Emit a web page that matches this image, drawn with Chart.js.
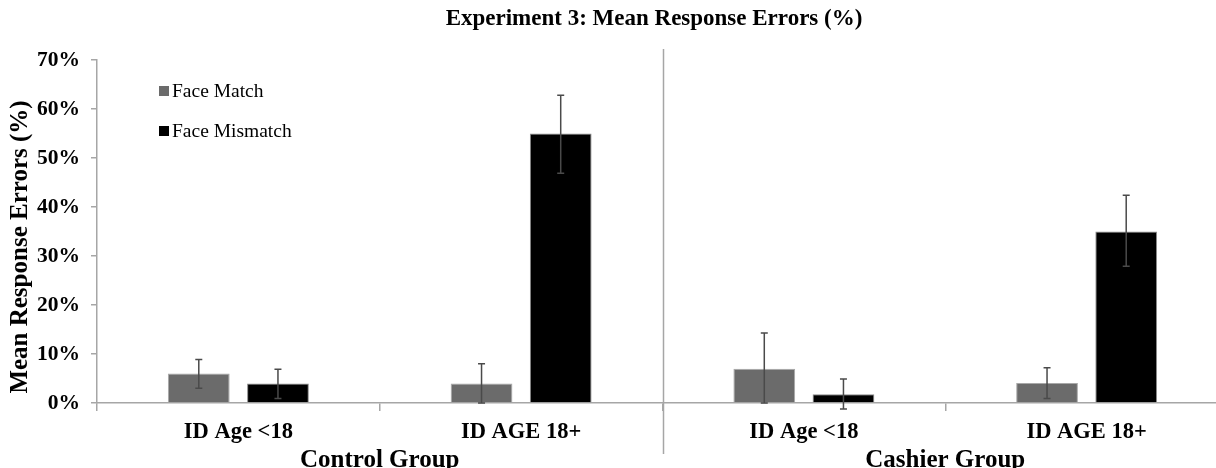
<!DOCTYPE html>
<html>
<head>
<meta charset="utf-8">
<script src="https://cdn.jsdelivr.net/npm/chart.js@4/dist/chart.umd.min.js"></script>
<style>
  html, body { margin: 0; padding: 0; background: #fff; overflow: hidden; }
  #wrap { width: 1230px; height: 468px; }
</style>
</head>
<body>
<div id="wrap"><canvas id="chart"></canvas></div>
<script>
// Chart data
const categories = ['ID Age <18', 'ID AGE 18+', 'ID Age <18', 'ID AGE 18+'];
const groups = ['Control Group', 'Cashier Group'];
const faceMatch = [6, 4, 7, 4.1];
const faceMismatch = [4, 55, 1.8, 35];
const matchLow = [3, 0, 0, 0.9];
const matchHigh = [8.9, 8, 14.3, 7.2];
const mismatchLow = [0.9, 46.9, -1.2, 27.9];
const mismatchHigh = [6.9, 62.8, 4.9, 42.4];
const yTicks = [0, 10, 20, 30, 40, 50, 60, 70];

const serif = "'Liberation Serif', 'Times New Roman', serif";
const axisGrey = '#a6a6a6';

// Error bars drawn on top of each bar
const errorBars = {
  id: 'errorBars',
  afterDatasetsDraw(chart) {
    const ctx = chart.ctx;
    const y = chart.scales.y;
    chart.data.datasets.forEach((ds, i) => {
      const meta = chart.getDatasetMeta(i);
      meta.data.forEach((bar, j) => {
        const top = y.getPixelForValue(ds.errHigh[j]);
        const bottom = y.getPixelForValue(ds.errLow[j]);
        ctx.save();
        ctx.strokeStyle = '#4a4a4a';
        ctx.lineWidth = 1.5;
        ctx.beginPath();
        ctx.moveTo(bar.x, top);
        ctx.lineTo(bar.x, bottom);
        ctx.moveTo(bar.x - 3.5, top);
        ctx.lineTo(bar.x + 3.5, top);
        ctx.moveTo(bar.x - 3.5, bottom);
        ctx.lineTo(bar.x + 3.5, bottom);
        ctx.stroke();
        ctx.restore();
      });
    });
  }
};

// Title, y title, divider and legend inside the plot
const extras = {
  id: 'extras',
  afterDraw(chart) {
    const ctx = chart.ctx;
    const x = chart.scales.x;
    ctx.save();

    // divider between the two groups
    const divX = Math.round(x.getPixelForValue(1.5)) + 0.5;
    ctx.strokeStyle = axisGrey;
    ctx.lineWidth = 1.5;
    ctx.beginPath();
    ctx.moveTo(divX, 49);
    ctx.lineTo(divX, 454);
    ctx.stroke();

    ctx.fillStyle = '#000';
    ctx.font = 'bold 23px ' + serif;
    ctx.textAlign = 'center';
    ctx.textBaseline = 'middle';
    ctx.fillText('Experiment 3: Mean Response Errors (%)', 654, 19);

    ctx.save();
    ctx.translate(21, 247);
    ctx.rotate(-Math.PI / 2);
    ctx.font = 'bold 25px ' + serif;
    ctx.fillText('Mean Response Errors (%)', 0, 0);
    ctx.restore();

    // legend
    ctx.font = '19.5px ' + serif;
    ctx.textAlign = 'left';
    chart.data.datasets.forEach((ds, i) => {
      const cy = 91 + i * 40;
      ctx.fillStyle = ds.backgroundColor;
      ctx.fillRect(159, cy - 5, 10, 10);
      ctx.fillStyle = '#000';
      ctx.fillText(ds.label, 172, cy + 1);
    });
    ctx.restore();
  }
};

const ctx = document.getElementById('chart').getContext('2d');
const myChart = new Chart(ctx, {
  type: 'bar',
  data: {
    labels: categories,
    datasets: [
      {
        label: 'Face Match',
        data: faceMatch,
        errLow: matchLow,
        errHigh: matchHigh,
        backgroundColor: '#6b6b6b',
        borderColor: '#a8a8a8',
        borderWidth: 1
      },
      {
        label: 'Face Mismatch',
        data: faceMismatch,
        errLow: mismatchLow,
        errHigh: mismatchHigh,
        backgroundColor: '#000000',
        borderColor: '#8a8a8a',
        borderWidth: 1
      }
    ]
  },
  options: {
    responsive: true,
    maintainAspectRatio: false,
    animation: false,
    categoryPercentage: 0.56,
    barPercentage: 0.78,
    layout: { padding: { top: 60, left: 0, right: 2, bottom: 0 } },
    plugins: {
      legend: { display: false },
      title: { display: false },
      tooltip: { enabled: false }
    },
    scales: {
      y: {
        min: 0,
        max: 70,
        afterBuildTicks: scale => { scale.ticks = yTicks.map(v => ({ value: v })); },
        afterFit: scale => { scale.width = 97; },
        border: { color: axisGrey, width: 1.5 },
        grid: { drawOnChartArea: false, tickLength: 6, color: axisGrey, lineWidth: 1.5 },
        ticks: {
          padding: 11,
          color: '#000',
          font: { family: serif, size: 21.5, weight: 'bold' },
          callback: v => v + '%'
        }
      },
      x: {
        offset: true,
        afterFit: scale => { scale.height = 42; },
        border: { color: axisGrey, width: 1.5 },
        grid: { offset: true, drawOnChartArea: false, tickLength: 8, color: axisGrey, lineWidth: 1.5 },
        ticks: {
          padding: 8,
          color: '#000',
          maxRotation: 0,
          font: { family: serif, size: 22.5, weight: 'bold' }
        }
      },
      x2: {
        type: 'category',
        labels: groups,
        position: 'bottom',
        offset: true,
        afterFit: scale => { scale.height = 23; },
        border: { display: false },
        grid: { display: false, drawTicks: false },
        ticks: {
          padding: 1,
          color: '#000',
          maxRotation: 0,
          font: { family: serif, size: 25, weight: 'bold' }
        }
      }
    }
  },
  plugins: [errorBars, extras]
});
</script>
</body>
</html>
